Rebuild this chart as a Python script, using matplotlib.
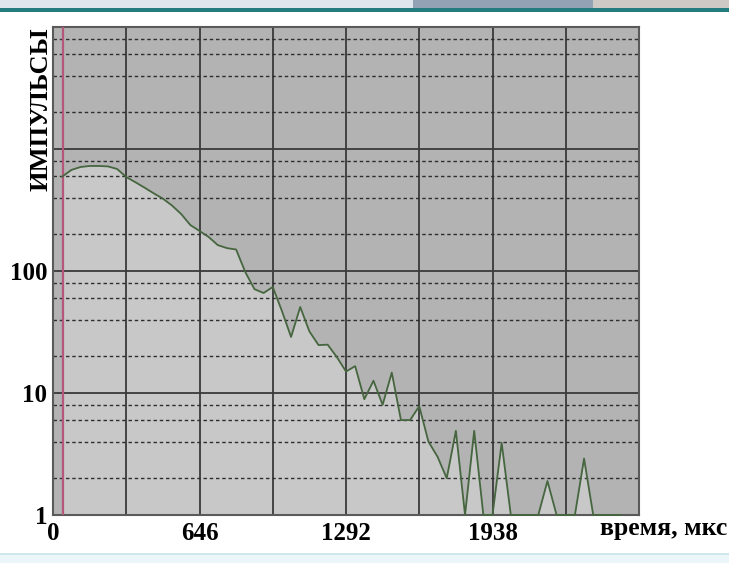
import numpy as np
import matplotlib
matplotlib.use("Agg")
import matplotlib.pyplot as plt
from matplotlib.patches import Rectangle

# ---- data ----
bin_width = 40.375  # µs per channel
channels = list(range(1, 63))
counts = [593, 673, 712, 726, 726, 720, 686, 589, 534, 482,
          433, 392, 344, 293, 238, 213, 190, 163, 154, 150,
          98, 71, 66, 74, 47, 28.8, 50.7, 32, 24.7, 24.9,
          19.7, 15, 16.6, 8.9, 12.6, 8, 14.7, 6.0, 6.0, 7.8,
          4.0, 3.0, 2.0, 4.9, 1, 4.9, 1, 1, 3.9, 1,
          1, 1, 1, 1.9, 1, 1, 1, 2.9, 1, 1,
          1, 1]
xtick_values = [0, 646, 1292, 1938]
xtick_labels = ["0", "646", "1292", "1938"]
ytick_values = [1, 10, 100]
ytick_labels = ["1", "10", "100"]
marker_time = 44
x_max = 2584
y_min, y_max = 1, 10000

times = np.array(channels) * bin_width
counts = np.array(counts, dtype=float)

serif = ["Liberation Serif", "DejaVu Serif"]

fig = plt.figure(figsize=(7.29, 5.63), dpi=100)
fig.patch.set_facecolor("white")

# slide banner decorations
W, H = 729, 563
def frect(x0, y0, x1, y1, color):
    fig.patches.append(Rectangle((x0 / W, 1 - y1 / H), (x1 - x0) / W, (y1 - y0) / H,
                                 transform=fig.transFigure, color=color, zorder=0, lw=0))
frect(0, 0, 413, 7.5, "#dfe6ee")
frect(413, 0, 593, 7.5, "#93a2b4")
frect(593, 0, 729, 7.5, "#cfc9c5")
frect(0, 7.5, 729, 11.5, "#237d80")
frect(0, 553, 729, 563, "#eaf6f8")
frect(0, 553, 729, 554.5, "#cfe6ea")

ax = fig.add_axes([53 / W, 1 - 515 / H, (639 - 53) / W, (515 - 27) / H])
ax.set_facecolor("#b3b3b3")
ax.set_yscale("log")
ax.set_xlim(0, x_max)
ax.set_ylim(y_min, y_max)

# fill under the curve
ax.fill_between(times, counts, y_min, color="#c8c8c8", lw=0, zorder=1)

# grid lines
for xv in np.arange(323, x_max, 323):
    ax.axvline(xv, color="#3a3a3a", lw=1.3, zorder=2)
for dec in [1, 10, 100, 1000]:
    for m in [2, 4, 6, 8]:
        ax.axhline(dec * m, color="#2e2e2e", lw=1.0, ls=(0, (2.5, 2.0)), zorder=2)
for yv in [10, 100, 1000]:
    ax.axhline(yv, color="#3a3a3a", lw=1.3, zorder=2)

ax.axvline(marker_time, color="#b4577a", lw=1.6, zorder=3)

ax.plot(times, counts, color="#46663f", lw=1.3, zorder=4, clip_on=False)

for s in ax.spines.values():
    s.set_color("#5a5a5a")
    s.set_linewidth(1.5)

ax.set_xticks(xtick_values)
ax.set_xticklabels(xtick_labels)
ax.set_yticks(ytick_values)
ax.set_yticklabels(ytick_labels)
ax.yaxis.set_minor_locator(matplotlib.ticker.NullLocator())
ax.tick_params(axis="both", length=0, pad=4)
ax.tick_params(axis="x", pad=5)
for lab in ax.get_xticklabels() + ax.get_yticklabels():
    lab.set_fontfamily(serif)
    lab.set_fontweight("bold")
    lab.set_fontsize(18)

fig.text(41 / W, 1 - 109 / H, "ИМПУЛЬСЫ", rotation=90, ha="center", va="center",
         fontfamily=serif, fontweight="bold", fontsize=19)
fig.text(727 / W, 1 - 529 / H, "время, мкс", ha="right", va="center",
         fontfamily=serif, fontweight="bold", fontsize=18.5)

fig.savefig("out.png", dpi=100)
